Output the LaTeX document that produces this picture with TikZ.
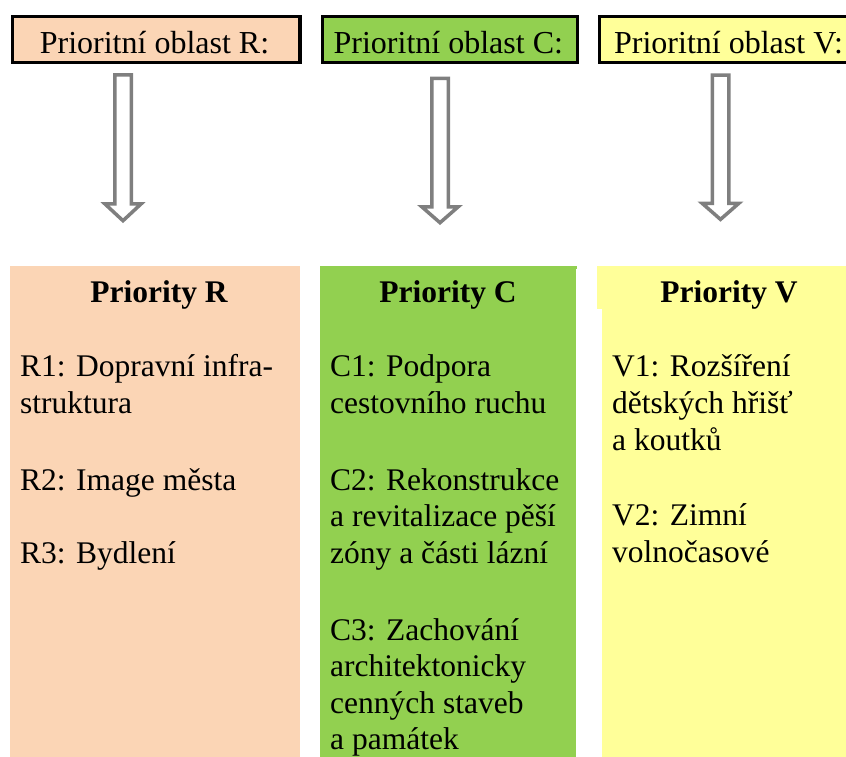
\documentclass[tikz,border=0pt]{standalone}
\usepackage{fontspec}
\setmainfont{Liberation Serif}
\definecolor{peach}{HTML}{FBD5B5}
\definecolor{grn}{HTML}{92D050}
\definecolor{yel}{HTML}{FFFF99}
\definecolor{arrgray}{HTML}{7F7F7F}
\newcommand\hollowdown[4]{%
  \draw[hollow] (#1-8.25,#2) -- (#1+8.25,#2) -- (#1+8.25,#3) -- (#1+18.25,#3)
    -- (#1,#4) -- (#1-18.25,#3) -- (#1-8.25,#3) -- cycle;}
\begin{document}
\begin{tikzpicture}[x=1pt,y=-1pt,
  topbox/.style={draw=black, line width=3.3pt, inner sep=0pt, anchor=north west},
  toptext/.style={anchor=base, inner sep=0pt, font=\fontsize{32}{38}\selectfont},
  body/.style={anchor=base west, inner sep=0pt, font=\fontsize{31.5}{36.5}\selectfont},
  title/.style={anchor=base, inner sep=0pt, font=\fontsize{31.5}{36.5}\selectfont\bfseries},
  hollow/.style={draw=arrgray, line width=3.5pt, fill=white, line join=miter}]
\useasboundingbox (0,0) rectangle (846,756);

% top boxes
\node[topbox, fill=peach, minimum width=287.7pt, minimum height=46pt] (boxR) at (10.65,15) {};
\node[topbox, fill=grn, minimum width=254.6pt, minimum height=46pt] (boxC) at (321,15) {};
\node[topbox, fill=yel, minimum width=262pt, minimum height=46pt] (boxV) at (597.65,15) {};
\node[toptext] (tR) at (154.5,53) {Prioritní oblast R:};
\node[toptext] (tC) at (448.3,53) {Prioritní oblast C:};
\node[toptext] (tV) at (728.5,53) {Prioritní oblast V:};

% hollow arrows
\hollowdown{123}{74.75}{203.75}{220.7}
\hollowdown{440}{78.4}{206.75}{222.7}
\hollowdown{720.5}{75}{203.4}{219.4}

% columns
\fill[peach] (10,265.7) rectangle (300,760);
\fill[grn] (320,265.7) rectangle (576,760);
\fill[grn] (576,265.7) rectangle (577,269);
\fill[yel] (597.3,265.7) rectangle (850,309.3);
\fill[yel] (602,309) rectangle (850,760);

% titles
\node[title] (hR) at (159,302) {Priority R};
\node[title] (hC) at (448,302) {Priority C};
\node[title] (hV) at (729,302) {Priority V};

% R column
\node[body] (r1a) at (20,376.7) {R1: Dopravní infra-};
\node[body] (r1b) at (20,413.3) {struktura};
\node[body] (r2) at (20,490) {R2: Image města};
\node[body] (r3) at (20,563) {R3: Bydlení};

% C column
\node[body] (c1a) at (330,376.7) {C1: Podpora};
\node[body] (c1b) at (330,413.3) {cestovního ruchu};
\node[body] (c2a) at (330,490) {C2: Rekonstrukce};
\node[body] (c2b) at (330,526.5) {a revitalizace pěší};
\node[body] (c2c) at (330,563) {zóny a části lázní};
\node[body] (c3a) at (330,640) {C3: Zachování};
\node[body] (c3b) at (330,676.5) {architektonicky};
\node[body] (c3c) at (330,713) {cenných staveb};
\node[body] (c3d) at (330,749) {a památek};

% V column
\node[body] (v1a) at (612,376.7) {V1: Rozšíření};
\node[body] (v1b) at (612,413.3) {dětských hřišť};
\node[body] (v1c) at (612,450) {a koutků};
\node[body] (v2a) at (612,525.5) {V2: Zimní};
\node[body] (v2b) at (612,562) {volnočasové};
\end{tikzpicture}
\end{document}
